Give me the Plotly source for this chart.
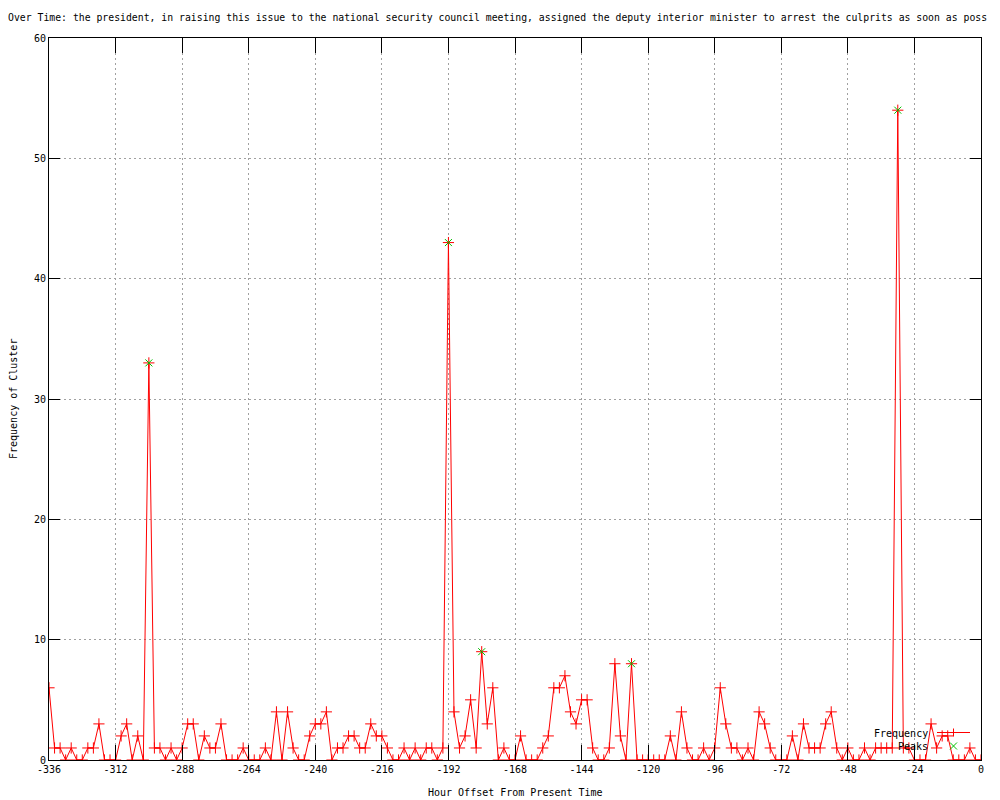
import plotly.graph_objects as go

# ---- data -------------------------------------------------------------
hours = list(range(-336, 1, 2))
frequency = [
    6, 1, 1, 0, 1, 0, 0, 1, 1, 3, 0, 0,          # -336 .. -314
    0, 2, 3, 0, 2, 0, 33, 1, 1, 0, 1, 0,         # -312 .. -290
    1, 3, 3, 0, 2, 1, 1, 3, 0, 0, 0, 1,          # -288 .. -266
    0, 0, 0, 1, 0, 4, 0, 4, 1, 0, 0, 2,          # -264 .. -242
    3, 3, 4, 0, 1, 1, 2, 2, 1, 1, 3, 2,          # -240 .. -218
    2, 1, 0, 0, 1, 0, 1, 0, 1, 1, 0, 1,          # -216 .. -194
    43, 4, 1, 2, 5, 1, 9, 3, 6, 0, 1, 0,         # -192 .. -170
    0, 2, 0, 0, 0, 1, 2, 6, 6, 7, 4, 3,          # -168 .. -146
    5, 5, 1, 0, 0, 1, 8, 2, 0, 8, 0, 0,          # -144 .. -122
    0, 0, 0, 0, 2, 0, 4, 1, 0, 0, 1, 0,          # -120 .. -98
    1, 6, 3, 1, 1, 0, 1, 0, 4, 3, 1, 0,          # -96 .. -74
    0, 0, 2, 0, 3, 1, 1, 1, 3, 4, 1, 0,          # -72 .. -50
    1, 0, 0, 1, 0, 1, 1, 1, 1, 54, 1, 1,         # -48 .. -26
    0, 0, 0, 3, 1, 2, 2, 0, 0, 0, 1, 0,          # -24 .. -2
    0,                                           # 0
]
peak_hours = [-300, -192, -180, -126, -30]
peak_values = [33, 43, 9, 8, 54]

x_ticks = list(range(-336, 1, 24))
x_tick_labels = [str(v) for v in x_ticks]
y_ticks = list(range(0, 61, 10))
y_tick_labels = [str(v) for v in y_ticks]

title_text = ("Over Time: the president, in raising this issue to the national "
              "security council meeting, assigned the deputy interior minister "
              "to arrest the culprits as soon as poss")

FONT = "DejaVu Sans Mono"
RED = "#ff0000"
GREEN = "#00c000"

# page body has an 8px margin: figure is offset by 8px right/down
W, H = 992, 792
L, R, T, B = 41, 19, 30, 40
PW, PH = W - L - R, H - T - B   # 932 x 722

fig = go.Figure()
fig.add_trace(go.Scatter(
    x=hours, y=frequency, mode="lines+markers", name="Frequency",
    line=dict(color=RED, width=1),
    marker=dict(symbol="cross-thin-open", size=8, color=RED,
                line=dict(color=RED, width=1)),
    cliponaxis=True,
))
fig.add_trace(go.Scatter(
    x=peak_hours, y=peak_values, mode="markers", name="Peaks",
    marker=dict(symbol="x-thin-open", size=7, color=GREEN,
                line=dict(color=GREEN, width=1)),
    cliponaxis=True,
))

axis_common = dict(
    showgrid=True, gridcolor="#a0a0a0", griddash="2px,3px", gridwidth=1,
    showline=True, linecolor="black", linewidth=1, mirror="ticks",
    ticks="inside", tickcolor="black", tickwidth=1,
    zeroline=False, tickfont=dict(family=FONT, size=10, color="black"),
    tickmode="array",
)
fig.update_xaxes(range=[-336, 0], tickvals=x_ticks, ticktext=x_tick_labels,
                 ticklen=15, **axis_common)
fig.update_yaxes(range=[0, 60], tickvals=y_ticks, ticktext=y_tick_labels,
                 ticklen=11, **axis_common)

fig.update_layout(
    width=W, height=H,
    margin=dict(l=L, r=R, t=T, b=B, autoexpand=False),
    plot_bgcolor="white", paper_bgcolor="white",
    showlegend=False,
    font=dict(family=FONT, size=10, color="black"),
    title=dict(text=title_text, xref="container", yref="container",
               x=0, xanchor="left", y=1 - 10 / H, yanchor="middle",
               font=dict(family=FONT, size=9.8, color="black")),
)


# positions below given in page pixels (reference coordinates)
def px_x(p):
    return (p - 8 - L) / PW


def px_y(p):
    return (8 + T + PH - p) / PH


# axis titles
fig.add_annotation(text="Hour Offset From Present Time", xref="paper", yref="paper",
                   x=0.5, y=px_y(792), xanchor="center", yanchor="middle",
                   showarrow=False, font=dict(family=FONT, size=10))
fig.add_annotation(text="Frequency of Cluster", xref="paper", yref="paper",
                   x=px_x(13), y=0.5, xanchor="center", yanchor="middle",
                   textangle=-90, showarrow=False, font=dict(family=FONT, size=10))

# gnuplot-style key (text left of sample) at bottom right
fig.add_annotation(text="Frequency", xref="paper", yref="paper",
                   x=px_x(930), y=px_y(733), xanchor="right", yanchor="middle",
                   showarrow=False, font=dict(family=FONT, size=10))
fig.add_annotation(text="Peaks", xref="paper", yref="paper",
                   x=px_x(930), y=px_y(746), xanchor="right", yanchor="middle",
                   showarrow=False, font=dict(family=FONT, size=10))
fig.add_shape(type="line", xref="paper", yref="paper",
              x0=px_x(937), x1=px_x(970), y0=px_y(732.5), y1=px_y(732.5),
              line=dict(color=RED, width=1))
fig.add_shape(type="line", xref="paper", yref="paper",
              x0=px_x(953.5), x1=px_x(953.5), y0=px_y(728.5), y1=px_y(736.5),
              line=dict(color=RED, width=1))
fig.add_shape(type="line", xref="paper", yref="paper",
              x0=px_x(950), x1=px_x(957), y0=px_y(742.5), y1=px_y(749.5),
              line=dict(color=GREEN, width=1))
fig.add_shape(type="line", xref="paper", yref="paper",
              x0=px_x(950), x1=px_x(957), y0=px_y(749.5), y1=px_y(742.5),
              line=dict(color=GREEN, width=1))

fig.write_html("out.html")
